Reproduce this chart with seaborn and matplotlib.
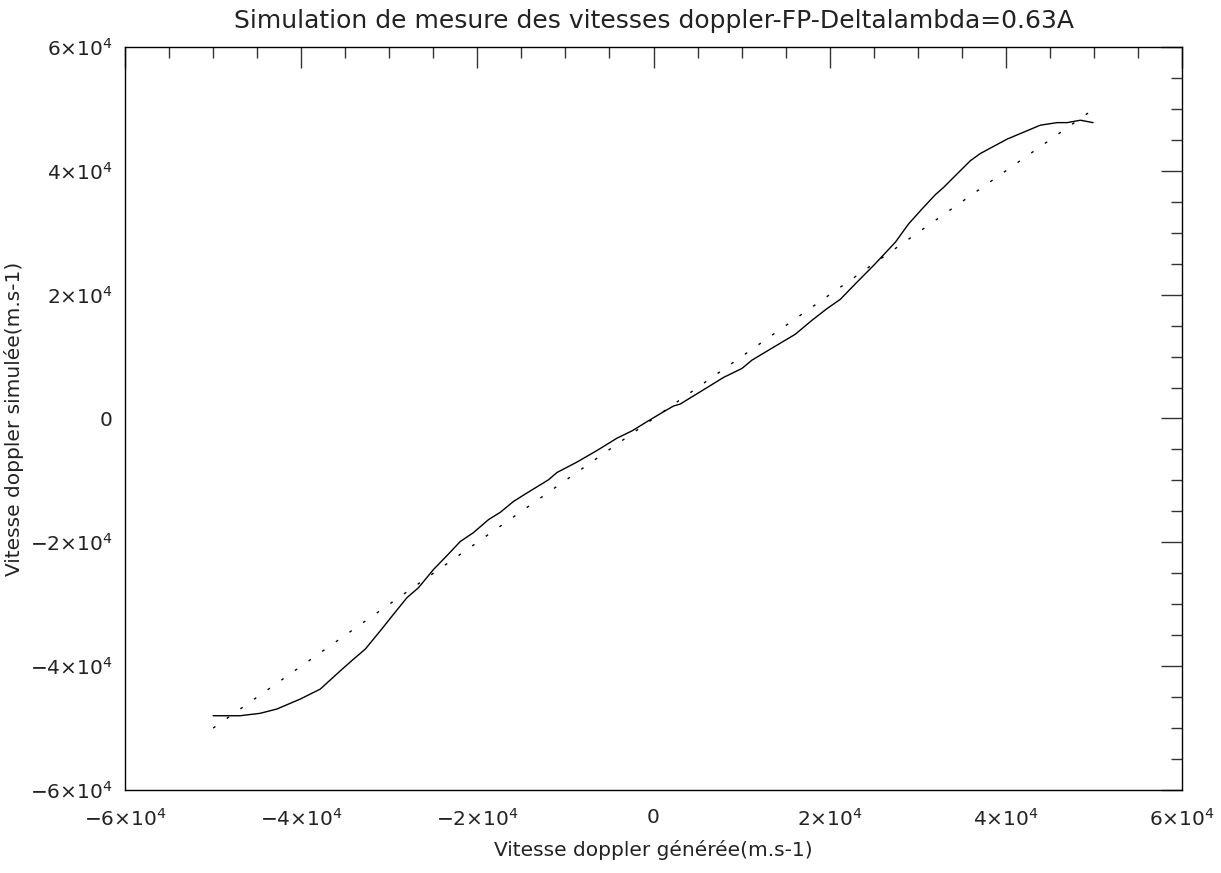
import matplotlib
matplotlib.use('Agg')
import matplotlib.pyplot as plt
import matplotlib.ticker as mticker
import seaborn as sns
import pandas as pd

v_generated = [-50000, -46940, -44670, -42770, -40110, -37840, -35570, -34070,
               -32740, -31040, -29530, -28000, -26690, -24980, -23090, -21950,
               -20440, -18740, -17410, -15900, -14380, -11920, -10970, -8700,
               -6430, -4160, -2450, -750, 1140, 2270, 3030, 5300, 7950, 10040,
               11170, 13250, 16090, 17990, 19690, 21200, 23100, 24980, 27450,
               28960, 30480, 31990, 32930, 35960, 37100, 40130, 43910, 45810,
               46950, 48460, 49900]
v_simulated = [-48010, -48010, -47620, -46930, -45320, -43710, -40770, -38880,
               -37270, -34330, -31640, -28950, -27340, -24390, -21610, -19880,
               -18430, -16340, -15170, -13400, -12040, -9900, -8730, -7050,
               -5180, -3190, -2010, -520, 1090, 2010, 2330, 4310, 6630, 8080,
               9420, 11190, 13600, 15860, 17740, 19240, 22020, 24710, 28460,
               31430, 33840, 36140, 37320, 41620, 42790, 45110, 47370, 47780,
               47780, 48170, 47780]

# reference line (ideal measurement)
ref_x = [-50000, 50000]
ref_y = [-50000, 50000]

tick_values = [-60000, -40000, -20000, 0, 20000, 40000, 60000]

title = 'Simulation de mesure des vitesses doppler-FP-Deltalambda=0.63A'
xlabel = 'Vitesse doppler générée(m.s-1)'
ylabel = 'Vitesse doppler simulée(m.s-1)'

sns.set_style('white')
plt.rcParams['font.family'] = ['DejaVu Sans']
plt.rcParams['lines.scale_dashes'] = False

meas = pd.DataFrame({'x': v_generated, 'y': v_simulated})
ref = pd.DataFrame({'x': ref_x, 'y': ref_y})

fig = plt.figure(figsize=(12.21, 8.73), dpi=100)
ax = fig.add_axes([0.1024, 0.0951, 0.8657, 0.8511])

sns.lineplot(data=meas, x='x', y='y', ax=ax, color='black', linewidth=1.0,
             sort=False, estimator=None)
sns.lineplot(data=ref, x='x', y='y', ax=ax, color='black', linewidth=1.0,
             linestyle=(0, (2, 10)), estimator=None)

ax.set_xlim(-60000, 60000)
ax.set_ylim(-60000, 60000)


def fmt(v, pos):
    if v == 0:
        return '0'
    m = int(round(v / 1e4))
    return r'$%s%d{\times}10^{4}$' % ('-' if m < 0 else '', abs(m))


for axis in (ax.xaxis, ax.yaxis):
    axis.set_major_locator(mticker.FixedLocator(tick_values))
    axis.set_minor_locator(mticker.MultipleLocator(5000))
    axis.set_major_formatter(mticker.FuncFormatter(fmt))

ax.tick_params(which='both', direction='in', top=True, right=True,
               color='#333333', width=1.0, labelsize=14.5, labelcolor='#222222')
ax.tick_params(which='major', length=15)
ax.tick_params(which='minor', length=8)
ax.tick_params(axis='x', which='major', pad=13)
ax.tick_params(axis='y', which='major', pad=9)

for s in ax.spines.values():
    s.set_color('black')
    s.set_linewidth(1.0)

ax.set_title(title, fontsize=18, color='#222222', pad=14)
ax.set_xlabel(xlabel, fontsize=14.5, color='#222222', labelpad=7)
ax.set_ylabel(ylabel, fontsize=14.5, color='#222222', labelpad=4)

fig.savefig('out.png', dpi=100)
